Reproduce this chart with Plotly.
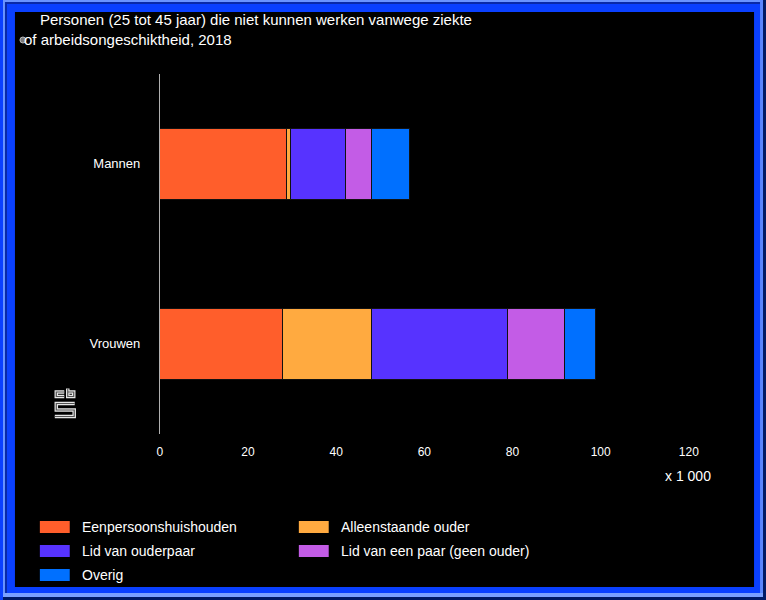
import plotly.graph_objects as go

W, H = 766, 600

# ---- data ----
categories = ["Mannen", "Vrouwen"]
series_names = ["Eenpersoonshuishouden", "Alleenstaande ouder", "Lid van ouderpaar",
                "Lid van een paar (geen ouder)", "Overig"]
eenpersoons = [28.8, 27.9]
alleenstaande = [0.9, 20.1]
ouderpaar = [12.3, 30.9]
paar_geen_ouder = [5.9, 13.0]
overig = [8.8, 6.9]
series_values = [eenpersoons, alleenstaande, ouderpaar, paar_geen_ouder, overig]
colors = ["#ff5e2b", "#ffaa40", "#5733ff", "#c35ce6", "#0070ff"]
tick_vals = [0, 20, 40, 60, 80, 100, 120]
title_line1 = "Personen (25 tot 45 jaar) die niet kunnen werken vanwege ziekte"
title_line2 = "of arbeidsongeschiktheid, 2018"
unit_label = "x 1 000"

FONT = "Liberation Sans, Arial, sans-serif"
PAD = 3  # annotation inner padding in px


def X(px):
    return px / W


def Y(py):
    return 1 - py / H


fig = go.Figure()
for name, vals, col in zip(series_names, series_values, colors):
    fig.add_trace(go.Bar(
        y=categories, x=vals, name=name, orientation="h",
        marker=dict(color=col, line=dict(color="#111111", width=1)),
        width=0.395, showlegend=False,
        hovertemplate="%{y}: %{x}<extra>" + name + "</extra>",
    ))

shapes = []
# frame
shapes.append(dict(type="rect", xref="paper", yref="paper", x0=X(12), x1=X(754), y0=Y(587), y1=Y(12),
                   fillcolor="#000000", line_width=0, layer="below"))
for (x0, y0, x1, y1, c) in [
    (0, 0, 766, 2, "#6a94ff"), (0, 0, 2, 600, "#6a94ff"),
    (2, 2, 764, 4, "#0a2aa8"), (2, 2, 4, 598, "#0a2aa8"),
    (760, 0, 763, 597, "#5a86ff"), (763, 0, 766, 600, "#001a66"),
    (0, 593, 763, 597, "#7aa0ff"), (0, 597, 766, 600, "#001a66"),
]:
    shapes.append(dict(type="rect", xref="paper", yref="paper", x0=X(x0), x1=X(x1), y0=Y(y1), y1=Y(y0),
                       fillcolor=c, line_width=0, layer="below"))

# title icon (small grey sphere)
shapes.append(dict(type="circle", xref="paper", yref="paper", x0=X(17), x1=X(23), y0=Y(43), y1=Y(37),
                   fillcolor="#7a7a7a", line=dict(color="#bbbbbb", width=1)))

# CBS logo (outlined strokes)
logo_paths = [
    [(61.5, 392), (53.5, 392), (53.5, 396.5), (61.5, 396.5)],
    [(65, 388.5), (65, 396.5), (71, 396.5), (71, 392), (65, 392)],
    [(72, 403.5), (53.5, 403.5), (53.5, 410), (71.5, 410), (71.5, 416.5), (52, 416.5)],
]
for lw, lc in [(3.5, "#e6e6e6"), (1.2, "#555555")]:
    for pts in logo_paths:
        d = "M " + " L ".join(f"{X(px):.5f},{Y(py):.5f}" for px, py in pts)
        shapes.append(dict(type="path", xref="paper", yref="paper", path=d,
                           line=dict(color=lc, width=lw)))

annotations = [
    dict(text=title_line1, x=X(38 - PAD), y=Y(20), xref="paper", yref="paper", xanchor="left",
         yanchor="middle", showarrow=False, font=dict(family=FONT, size=15, color="white")),
    dict(text=title_line2, x=X(22 - PAD), y=Y(40), xref="paper", yref="paper", xanchor="left",
         yanchor="middle", showarrow=False, font=dict(family=FONT, size=15, color="white")),
    dict(text=unit_label, x=X(688), y=Y(476), xref="paper", yref="paper", xanchor="center",
         yanchor="middle", showarrow=False, font=dict(family=FONT, size=14, color="white")),
]

# legend (manual, two columns)
leg_pos = [(37, 527, 80), (297, 527, 340), (37, 551, 80), (297, 551, 340), (37, 575, 80)]
for (sx, cy, tx), name, col in zip(leg_pos, series_names, colors):
    shapes.append(dict(type="rect", xref="paper", yref="paper", x0=X(sx), x1=X(sx + 30),
                       y0=Y(cy + 6), y1=Y(cy - 6), fillcolor=col, line_width=0))
    annotations.append(dict(text=name, x=X(tx - PAD), y=Y(cy), xref="paper", yref="paper",
                            xanchor="left", yanchor="middle", showarrow=False,
                            font=dict(family=FONT, size=14, color="white")))

fig.update_layout(
    width=W, height=H, margin=dict(l=0, r=0, t=0, b=0),
    barmode="stack", paper_bgcolor="#0a40ff", plot_bgcolor="rgba(0,0,0,0)",
    font=dict(family=FONT, size=13, color="white"),
    shapes=shapes, annotations=annotations, showlegend=False,
    xaxis=dict(domain=[X(157.5), X(732.8)], range=[0, 130], tickvals=tick_vals,
               showgrid=False, zeroline=False, showline=False, ticks="",
               ticklabelstandoff=9, tickfont=dict(family=FONT, size=12, color="white"),
               anchor="y", fixedrange=True),
    yaxis=dict(domain=[Y(433.7), Y(73.7)], autorange="reversed", showgrid=False,
               zeroline=False, showline=True, linecolor="#b0b0b0", linewidth=1, ticks="",
               ticklabelstandoff=16, tickfont=dict(family=FONT, size=13, color="white"),
               fixedrange=True),
)

fig.write_html("out.html")
